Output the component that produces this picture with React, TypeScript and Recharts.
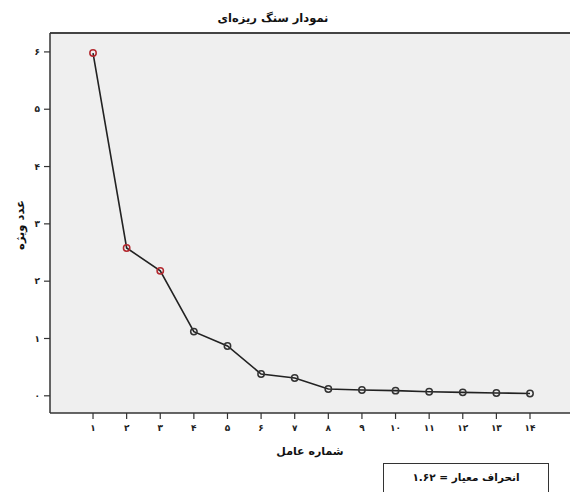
import React from 'react';
import { LineChart, Line, XAxis, YAxis, CartesianGrid, ReferenceLine, Label } from 'recharts';

// Scree plot data
const factors = [1, 2, 3, 4, 5, 6, 7, 8, 9, 10, 11, 12, 13, 14];
const eigenvalues = [5.98, 2.58, 2.18, 1.12, 0.87, 0.38, 0.31, 0.12, 0.1, 0.09, 0.07, 0.06, 0.05, 0.04];
const xTickLabels = ['۱', '۲', '۳', '۴', '۵', '۶', '۷', '۸', '۹', '۱۰', '۱۱', '۱۲', '۱۳', '۱۴'];
const yTicks = [0, 1, 2, 3, 4, 5, 6];
const yTickLabels = ['۰', '۱', '۲', '۳', '۴', '۵', '۶'];
const extractedFactors = 3;

const title = 'نمودار سنگ ریزه‌ای';
const xLabel = 'شماره عامل';
const yLabel = 'عدد ویژه';
const legendText = 'انحراف معیار = ۱.۶۲';

const data = factors.map((f, i) => ({ factor: f, value: eigenvalues[i] }));

const FONT = '"DejaVu Sans", "Liberation Sans", sans-serif';

const Dot = (props: any) => {
  const { cx, cy, index } = props;
  const color = index < extractedFactors ? '#b3272d' : '#333';
  return <circle key={`dot-${index}`} cx={cx} cy={cy} r={3.2} fill="none" stroke={color} strokeWidth={1.5} />;
};

export default function App() {
  return (
    <div style={{ position: 'absolute', top: 0, left: 0, width: 572, height: 492, background: '#fff', fontFamily: FONT }}>
      <div style={{ position: 'absolute', top: 11, left: 0, width: 572, textAlign: 'center', fontSize: 11.5, fontWeight: 'bold', color: '#111', direction: 'rtl' }}>
        <span style={{ position: 'relative', left: -13 }}>{title}</span>
      </div>
      <LineChart width={572} height={492} data={data} margin={{ top: 33, right: 2, bottom: 0, left: 0 }}>
        <CartesianGrid fill="#efefef" horizontal={false} vertical={false} />
        <XAxis
          dataKey="factor"
          type="number"
          domain={[-0.28, 15.19]}
          ticks={factors}
          tickFormatter={(v: number) => xTickLabels[factors.indexOf(v)] ?? ''}
          height={79}
          axisLine={{ stroke: '#333', strokeWidth: 1.5 }}
          tickLine={{ stroke: '#333', strokeWidth: 1.2 }}
          tickSize={6}
          tick={{ fontSize: 9, fontWeight: 'bold', fill: '#222', fontFamily: FONT, dy: 4 }}
          allowDataOverflow
        >
          <Label value={xLabel} position="insideTop" offset={34} style={{ fontSize: 11, fontWeight: 'bold', fill: '#111', fontFamily: FONT }} />
        </XAxis>
        <YAxis
          type="number"
          domain={[-0.3, 6.33]}
          ticks={yTicks}
          tickFormatter={(v: number) => yTickLabels[yTicks.indexOf(v)] ?? ''}
          width={50}
          axisLine={{ stroke: '#333', strokeWidth: 1.5 }}
          tickLine={{ stroke: '#333', strokeWidth: 1.2 }}
          tickSize={6}
          tick={{ fontSize: 9, fontWeight: 'bold', fill: '#222', fontFamily: FONT, dx: -2 }}
          allowDataOverflow
        >
          <Label value={yLabel} angle={-90} position="insideLeft" offset={20} dy={2} style={{ fontSize: 11.5, fontWeight: 'bold', fill: '#111', fontFamily: FONT, textAnchor: 'middle' }} />
        </YAxis>
        <ReferenceLine y={6.33} stroke="#444" strokeWidth={2} ifOverflow="visible" />
        <Line
          type="linear"
          dataKey="value"
          stroke="#222"
          strokeWidth={1.6}
          dot={<Dot />}
          activeDot={false}
          isAnimationActive={false}
        />
      </LineChart>
      <div style={{ position: 'absolute', left: 383, top: 463, width: 166, height: 40, border: '1.2px solid #333', boxSizing: 'border-box', background: '#fff' }}>
        <div style={{ textAlign: 'center', marginTop: 7, fontSize: 10.5, fontWeight: 'bold', color: '#111', direction: 'rtl' }}>{legendText}</div>
      </div>
    </div>
  );
}
